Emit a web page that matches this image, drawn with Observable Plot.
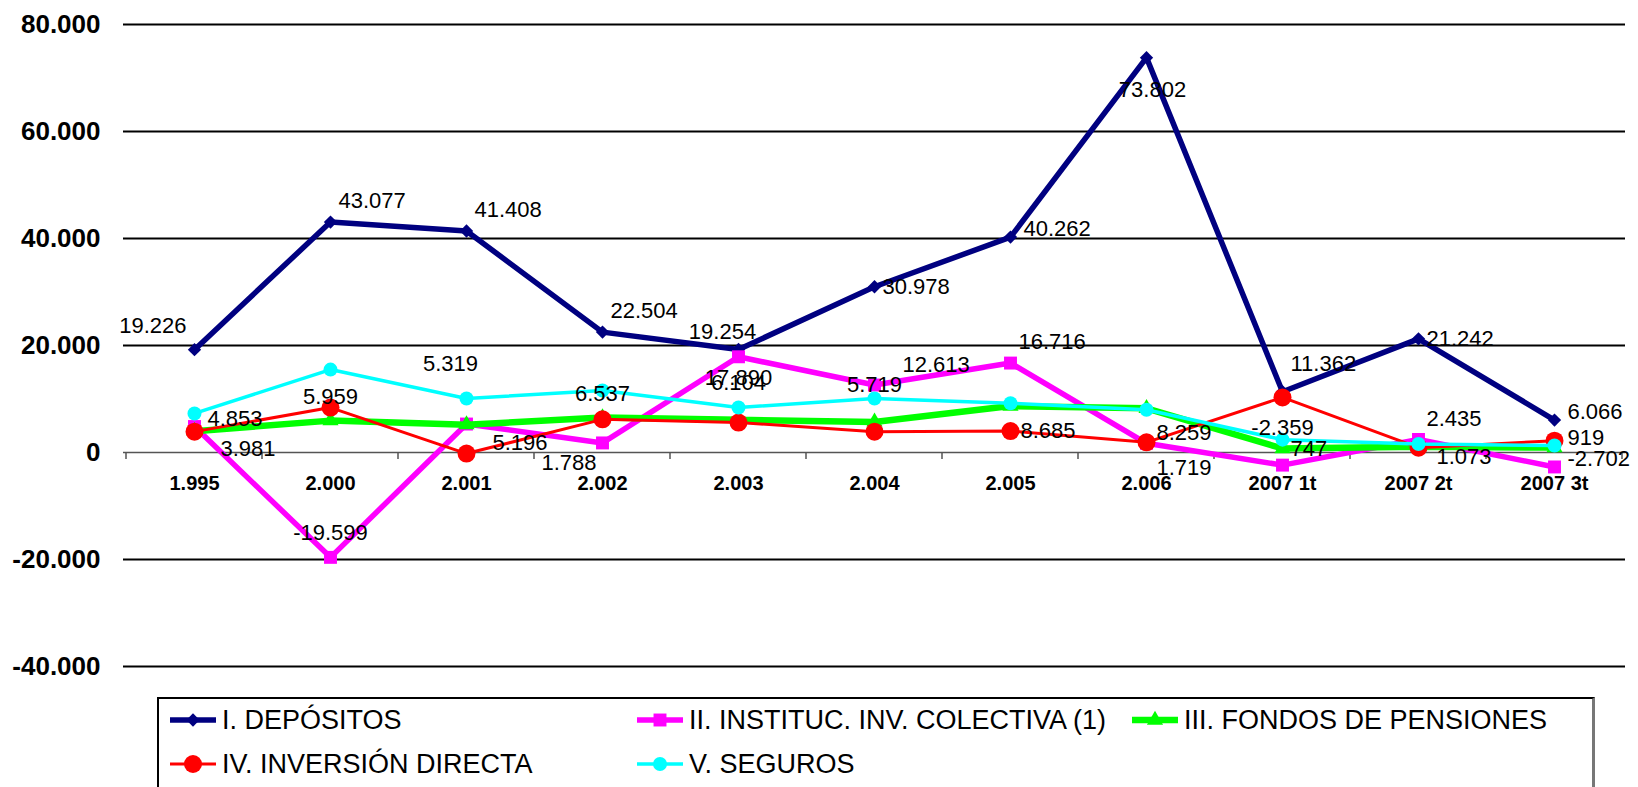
<!DOCTYPE html>
<html><head><meta charset="utf-8">
<script src="https://cdn.jsdelivr.net/npm/d3@7"></script>
<script src="https://cdn.jsdelivr.net/npm/@observablehq/plot@0.6"></script>
<style>
html,body{margin:0;padding:0;background:#fff;}
body{width:1638px;height:787px;position:relative;overflow:hidden;font-family:"Liberation Sans",Arial,sans-serif;}
#chart svg{display:block;}
#legend{position:absolute;left:157px;top:697px;width:1438px;height:92px;border-top:2px solid #000;border-left:2px solid #000;border-right:3px solid #777;box-sizing:border-box;}
.item{position:absolute;display:flex;align-items:center;font-size:27px;color:#000;white-space:nowrap;height:30px;}
.item svg{margin-right:5px;}
</style></head><body>
<div id="chart"></div>
<div id="legend"></div>
<script>
// ---- data ----
const categories = ["1.995","2.000","2.001","2.002","2.003","2.004","2.005","2.006","2007 1t","2007 2t","2007 3t"];
const depositos  = [19226, 43077, 41408, 22504, 19254, 30978, 40262, 73802, 11362, 21242, 6066];
const iic        = [4853, -19599, 5319, 1788, 17890, 12613, 16716, 1719, -2359, 2435, -2702];
const pensiones  = [3981, 5959, 5196, 6537, 6104, 5719, 8685, 8259, 747, 1073, 919];
const inversion  = [3900, 8400, -200, 6200, 5600, 3900, 4000, 1900, 10300, 900, 2200];
const seguros    = [7300, 15500, 10100, 11600, 8400, 10100, 9200, 8000, 2400, 1600, 1300];
const seriesNames = ["I. DEPÓSITOS", "II. INSTITUC. INV. COLECTIVA (1)", "III. FONDOS DE PENSIONES", "IV. INVERSIÓN DIRECTA", "V. SEGUROS"];
const yTicks = [-40000, -20000, 0, 20000, 40000, 60000, 80000];

// ---- styles (label placement keywords, like Excel's label positions) ----
const placeDepositos = ["ul","ur","ur","ur","ux","r","rU","d","urh","r","rU"];
const placeIic       = ["rU","u","uu","dl","ds","urr","ur","dr","uh","ur","rU"];
const placePensiones = ["drr","u","drr","u","uh","uh","dr","dr","r","rd","rUh"];
const placeOffsets = {
  r:   {anchor: "start",  dx: 8,   dy: 0},
  rU:  {anchor: "start",  dx: 13,  dy: -8},
  rUh: {anchor: "start",  dx: 13,  dy: -10},
  rd:  {anchor: "start",  dx: 18,  dy: 10},
  ur:  {anchor: "start",  dx: 8,   dy: -21},
  urh: {anchor: "start",  dx: 8,   dy: -28},
  urr: {anchor: "start",  dx: 28,  dy: -20},
  u:   {anchor: "middle", dx: 0,   dy: -24},
  uh:  {anchor: "middle", dx: 0,   dy: -37},
  ux:  {anchor: "middle", dx: -16, dy: -18},
  uu:  {anchor: "middle", dx: -16, dy: -60},
  ul:  {anchor: "end",    dx: -8,  dy: -24},
  d:   {anchor: "middle", dx: 6,   dy: 32},
  ds:  {anchor: "middle", dx: 0,   dy: 21},
  dr:  {anchor: "start",  dx: 10,  dy: 25},
  drr: {anchor: "start",  dx: 26,  dy: 18},
  dl:  {anchor: "end",    dx: -6,  dy: 20}
};
const styles = [
  {color: "#000080", symbol: "diamond2", r: 6,   width: 5.5, place: placeDepositos},
  {color: "#FF00FF", symbol: "square",   r: 7.3, width: 5.5, place: placeIic},
  {color: "#00FF00", symbol: "triangle", r: 6,   width: 6.5, place: placePensiones},
  {color: "#FF0000", symbol: "circle",   r: 9,   width: 3,   place: null},
  {color: "#00FFFF", symbol: "circle",   r: 7,   width: 3.5, place: null}
];
const seriesValues = [depositos, iic, pensiones, inversion, seguros];

const fmt = d3.formatLocale({decimal: ",", thousands: ".", grouping: [3], currency: ["", "€"], minus: "-"}).format(",.0f");

const series = seriesNames.map((name, si) => ({
  name, ...styles[si],
  rows: categories.map((c, i) => ({cat: c, value: seriesValues[si][i], series: name, place: styles[si].place ? styles[si].place[i] : null}))
}));

const marks = [];
// grid lines
marks.push(Plot.ruleY(yTicks.filter(v => v !== 0), {stroke: "#000", strokeWidth: 2}));
marks.push(Plot.ruleY([0], {stroke: "#555", strokeWidth: 1.5}));
// category boundary ticks on the zero line
marks.push((index, scales) => {
  const x = scales.x, y = scales.y;
  const step = x(categories[1]) - x(categories[0]);
  const g = d3.create("svg:g").attr("stroke", "#555").attr("stroke-width", 1.5);
  const y0 = y(0);
  for (let i = 0; i <= categories.length; i++) {
    const xv = (i < categories.length ? x(categories[i]) - step / 2 : x(categories[i - 1]) + step / 2);
    g.append("line").attr("x1", xv).attr("x2", xv).attr("y1", y0).attr("y2", y0 + 7);
  }
  return g.node();
});
// x category labels along the zero line
marks.push(Plot.text(categories, {x: d => d, y: () => 0, text: d => d, dy: 31, fontSize: 20, fontWeight: "bold", fill: "#000"}));
// series
for (const s of series) {
  marks.push(Plot.line(s.rows, {x: "cat", y: "value", stroke: s.color, strokeWidth: s.width, strokeLinejoin: "miter"}));
  marks.push(Plot.dot(s.rows, {x: "cat", y: "value", symbol: s.symbol, r: s.r, fill: s.color, stroke: "none"}));
}
// data labels
const labelled = series.filter(s => s.place).flatMap(s => s.rows);
for (const [key, o] of Object.entries(placeOffsets)) {
  const rows = labelled.filter(d => d.place === key);
  if (!rows.length) continue;
  marks.push(Plot.text(rows, {x: "cat", y: "value", text: d => fmt(d.value), textAnchor: o.anchor, dx: o.dx, dy: o.dy, fontSize: 22, fontWeight: "normal", fill: "#000"}));
}

const chart = Plot.plot({
  width: 1638, height: 697,
  marginLeft: 123, marginRight: 13, marginTop: 24, marginBottom: 31,
  x: {type: "point", domain: categories, padding: 0.5, axis: null},
  y: {domain: [-40000, 80000], ticks: yTicks, tickFormat: fmt, tickSize: 0, tickPadding: 23, label: null, line: false},
  style: {fontFamily: '"Liberation Sans", Arial, sans-serif', fontSize: "26px", fontWeight: "bold", background: "#fff", color: "#000", overflow: "visible"},
  marks
});
document.getElementById("chart").append(chart);

// ---- legend ----
const legend = document.getElementById("legend");
const legendPos = [[10, 6], [477, 6], [972, 6], [10, 50], [477, 50]];
const symMap = {diamond2: d3.symbolDiamond2, square: d3.symbolSquare, triangle: d3.symbolTriangle, circle: d3.symbolCircle};
series.forEach((s, si) => {
  const item = document.createElement("div");
  item.className = "item";
  item.style.left = legendPos[si][0] + "px";
  item.style.top = legendPos[si][1] + "px";
  const svg = d3.create("svg").attr("width", 48).attr("height", 24);
  svg.append("line").attr("x1", 1).attr("x2", 47).attr("y1", 12).attr("y2", 12).attr("stroke", s.color).attr("stroke-width", s.width);
  svg.append("path").attr("transform", "translate(24,12)").attr("d", d3.symbol(symMap[s.symbol], Math.PI * s.r * s.r)()).attr("fill", s.color);
  item.append(svg.node());
  const t = document.createElement("span");
  t.textContent = s.name;
  item.append(t);
  legend.append(item);
});
</script>
</body></html>
